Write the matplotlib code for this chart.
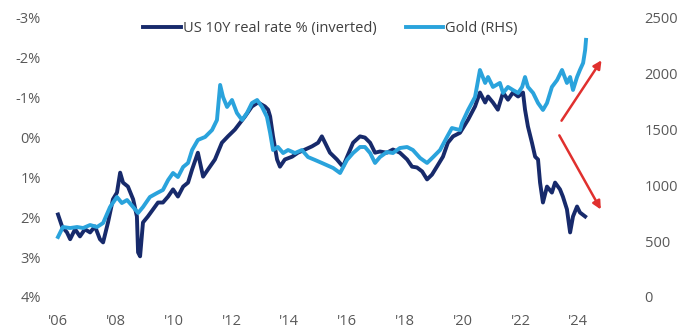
import matplotlib
matplotlib.use("Agg")
import matplotlib.pyplot as plt

# US 10Y real rate (%), plotted on an inverted axis
rate_years = [
    2006.00, 2006.14, 2006.31, 2006.42, 2006.59, 2006.76, 2006.93, 2007.11, 2007.28,
    2007.45, 2007.56, 2007.73, 2007.90, 2008.04, 2008.15, 2008.25, 2008.42, 2008.60,
    2008.73, 2008.77, 2008.84, 2008.94, 2009.11, 2009.29, 2009.46, 2009.63, 2009.81,
    2009.98, 2010.15, 2010.33, 2010.50, 2010.64, 2010.84, 2011.02, 2011.19, 2011.43,
    2011.67, 2011.88, 2012.12, 2012.30, 2012.47, 2012.71, 2012.92, 2013.16, 2013.27,
    2013.34, 2013.44, 2013.58, 2013.68, 2013.85, 2014.10, 2014.30, 2014.55, 2014.79,
    2015.00, 2015.13, 2015.24, 2015.41, 2015.65, 2015.86, 2016.21, 2016.45, 2016.62,
    2016.80, 2016.97, 2017.14, 2017.38, 2017.59, 2017.83, 2018.08, 2018.25, 2018.42,
    2018.60, 2018.77, 2018.94, 2019.11, 2019.32, 2019.49, 2019.67, 2019.91, 2020.19,
    2020.43, 2020.60, 2020.78, 2020.88, 2021.05, 2021.22, 2021.40, 2021.57, 2021.74,
    2021.92, 2022.09, 2022.16, 2022.26, 2022.40, 2022.51, 2022.61, 2022.68, 2022.78,
    2022.92, 2023.09, 2023.20, 2023.37, 2023.47, 2023.61, 2023.72, 2023.82, 2023.96,
    2024.06, 2024.24,
]
rate_values = [
    1.93, 2.23, 2.38, 2.55, 2.30, 2.48, 2.30, 2.38, 2.23,
    2.55, 2.63, 2.13, 1.55, 1.38, 0.88, 1.13, 1.23, 1.55,
    1.98, 2.88, 2.98, 2.13, 1.98, 1.80, 1.63, 1.63, 1.48,
    1.30, 1.48, 1.23, 1.13, 0.80, 0.38, 0.98, 0.80, 0.55,
    0.13, -0.03, -0.20, -0.37, -0.53, -0.78, -0.88, -0.78, -0.70,
    -0.53, -0.03, 0.55, 0.73, 0.55, 0.48, 0.38, 0.30, 0.22,
    0.13, -0.03, 0.13, 0.38, 0.55, 0.73, 0.13, -0.03, 0.00,
    0.13, 0.38, 0.35, 0.38, 0.30, 0.38, 0.55, 0.73, 0.75,
    0.85, 1.05, 0.93, 0.73, 0.48, 0.13, -0.03, -0.12, -0.45,
    -0.78, -1.13, -0.88, -1.03, -0.88, -0.70, -1.13, -0.95, -1.13,
    -1.03, -1.13, -0.70, -0.28, 0.13, 0.48, 0.55, 1.13, 1.63,
    1.23, 1.38, 1.13, 1.30, 1.48, 1.80, 2.38, 1.98, 1.73,
    1.88, 1.98,
]

# Gold price (USD/oz), right-hand axis
gold_years = [
    2006.00, 2006.17, 2006.42, 2006.66, 2006.87, 2007.11, 2007.35, 2007.56, 2007.80,
    2008.04, 2008.21, 2008.39, 2008.60, 2008.77, 2008.94, 2009.18, 2009.43, 2009.63,
    2009.81, 2009.98, 2010.15, 2010.33, 2010.50, 2010.64, 2010.84, 2011.09, 2011.33,
    2011.50, 2011.61, 2011.71, 2011.85, 2012.02, 2012.19, 2012.37, 2012.54, 2012.71,
    2012.89, 2013.06, 2013.23, 2013.34, 2013.44, 2013.61, 2013.79, 2013.96, 2014.20,
    2014.44, 2014.65, 2014.89, 2015.13, 2015.52, 2015.76, 2016.00, 2016.21, 2016.45,
    2016.62, 2016.80, 2016.97, 2017.14, 2017.38, 2017.59, 2017.83, 2018.08, 2018.28,
    2018.53, 2018.77, 2018.98, 2019.22, 2019.46, 2019.63, 2019.91, 2019.98, 2020.19,
    2020.43, 2020.60, 2020.78, 2020.88, 2021.05, 2021.29, 2021.40, 2021.57, 2021.74,
    2021.92, 2022.06, 2022.16, 2022.26, 2022.44, 2022.61, 2022.78, 2022.92, 2023.09,
    2023.27, 2023.44, 2023.61, 2023.72, 2023.82, 2023.96, 2024.06, 2024.17, 2024.24,
    2024.27,
]
gold_values = [
    538, 627, 618, 627, 618, 645, 627, 663, 806,
    896, 842, 869, 806, 753, 806, 896, 932, 959,
    1048, 1111, 1075, 1165, 1201, 1317, 1407, 1434, 1496,
    1586, 1900, 1792, 1703, 1765, 1649, 1586, 1649, 1738,
    1765, 1703, 1613, 1470, 1317, 1344, 1290, 1317, 1290,
    1317, 1254, 1228, 1201, 1156, 1111, 1228, 1290, 1344,
    1344, 1290, 1201, 1254, 1299, 1290, 1335, 1344, 1317,
    1245, 1201, 1254, 1317, 1434, 1514, 1496, 1559, 1676,
    1792, 2034, 1918, 1971, 1882, 1918, 1828, 1882, 1855,
    1828, 1882, 1971, 1882, 1828, 1738, 1676, 1738, 1882,
    1944, 2034, 1918, 1971, 1855, 1971, 2034, 2097, 2213,
    2304,
]

year_ticks = [2006, 2008, 2010, 2012, 2014, 2016, 2018, 2020, 2022, 2024]
rate_ticks = [-3, -2, -1, 0, 1, 2, 3, 4]
gold_ticks = [0, 500, 1000, 1500, 2000, 2500]

DARK = "#172a6b"
LIGHT = "#2aa3dc"
TEXT = "#595959"

plt.rcParams["font.family"] = ["Open Sans", "DejaVu Sans"]

fig = plt.figure(figsize=(6.84, 3.29), dpi=100)
ax = fig.add_axes([0.0658, 0.0973, 0.826, 0.848])
ax2 = ax.twinx()

l1, = ax.plot(rate_years, rate_values, color=DARK, linewidth=2.8,
              label="US 10Y real rate % (inverted)")
l2, = ax2.plot(gold_years, gold_values, color=LIGHT, linewidth=2.8, label="Gold (RHS)")

ax.set_xlim(2005.55, 2025.10)
ax.set_ylim(4, -3)
ax2.set_ylim(0, 2500)

ax.set_xticks(year_ticks)
ax.set_xticklabels([f"'{y % 100:02d}" for y in year_ticks])
ax.set_yticks(rate_ticks)
ax.set_yticklabels([f"{v}%" for v in rate_ticks])
ax2.set_yticks(gold_ticks)
ax2.set_yticklabels([str(v) for v in gold_ticks])

for a in (ax, ax2):
    for s in a.spines.values():
        s.set_visible(False)
    a.tick_params(length=0, labelsize=10.5, colors=TEXT)
ax.tick_params(axis="y", pad=3)
ax.tick_params(axis="x", pad=12)
ax2.tick_params(axis="y", pad=25)

# flechas rojas
arrow = dict(arrowstyle="-|>", color="#e0302e", lw=1.8, mutation_scale=12)
ax2.annotate("", xy=(2024.86, 2142), xytext=(2023.37, 1559), arrowprops=arrow)
ax2.annotate("", xy=(2024.83, 762), xytext=(2023.30, 1470), arrowprops=arrow)

leg = ax2.legend(handles=[l1, l2], loc="upper center", bbox_to_anchor=(0.505, 1.02),
                 ncol=2, frameon=False, fontsize=10.5, handlelength=2.6,
                 handletextpad=0.1, columnspacing=2.0, borderaxespad=0.2)
for t in leg.get_texts():
    t.set_color("#404040")

fig.savefig("out.png", dpi=100)
